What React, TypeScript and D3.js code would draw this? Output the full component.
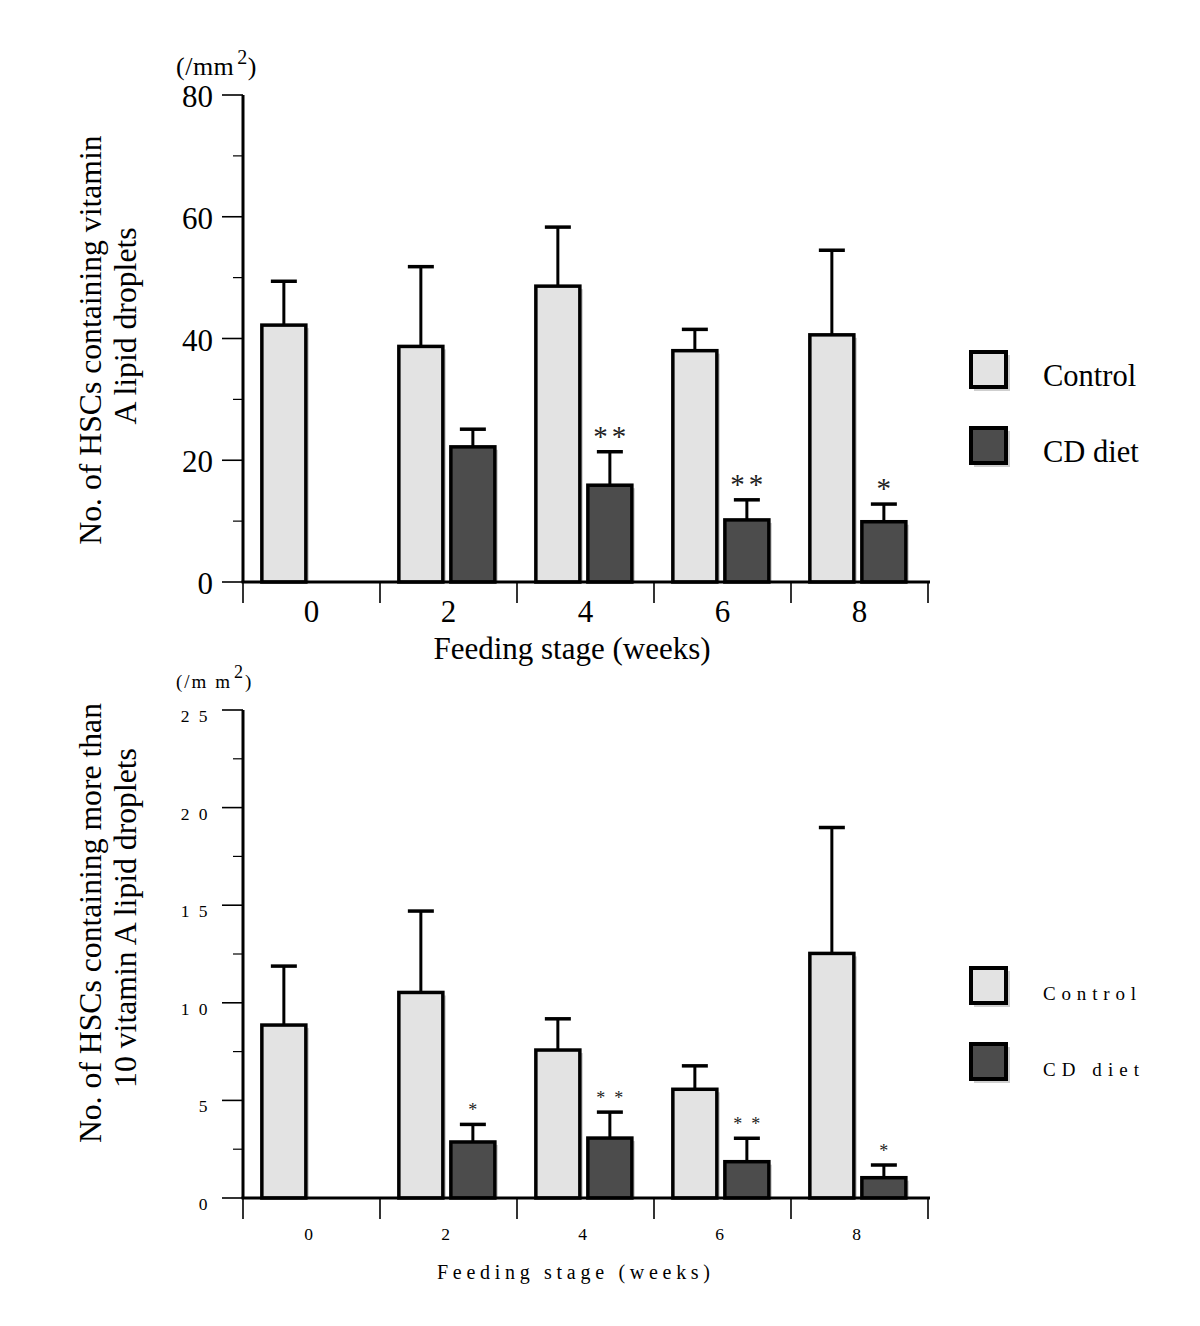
import React from 'react';
import * as d3 from 'd3';

const weeks = ['0', '2', '4', '6', '8'];
const seriesNames = ['Control', 'CD diet'];

// Top panel: all HSCs containing vitamin A lipid droplets (/mm2)
const topControl = [42.2, 38.7, 48.6, 38.0, 40.6];
const topControlSD = [7.2, 13.1, 9.7, 3.5, 13.9];
const topCD = [null, 22.2, 15.9, 10.2, 9.9];
const topCDSD = [null, 2.9, 5.5, 3.3, 2.9];
const topSig = ['', '', '**', '**', '*'];
const topMajor = [0, 20, 40, 60, 80];
const topMinor = [10, 30, 50, 70];

// Bottom panel: HSCs containing more than 10 vitamin A lipid droplets (/mm2)
const botControl = [8.86, 10.53, 7.58, 5.57, 12.53];
const botControlSD = [3.02, 4.17, 1.6, 1.2, 6.45];
const botCD = [null, 2.87, 3.07, 1.86, 1.04];
const botCDSD = [null, 0.9, 1.33, 1.2, 0.65];
const botSig = ['', '*', '**', '**', '*'];
const botMajor = [0, 5, 10, 15, 20, 25];
const botMinor = [2.5, 7.5, 12.5, 17.5, 22.5];

const FONT = "'Liberation Serif', 'Times New Roman', serif";
const FILLS: Record<string, string> = { 'Control': '#e3e3e3', 'CD diet': '#4c4c4c' };

type PanelProps = {
  control: (number | null)[];
  controlSD: (number | null)[];
  cd: (number | null)[];
  cdSD: (number | null)[];
  sig: string[];
  major: number[];
  minor: number[];
  yMax: number;
  yTop: number;
  yBottom: number;
  small: boolean;
  titleLines: string[];
  titleCenters: number[];
};

function Panel(p: PanelProps) {
  const left = 243;
  const right = 928;
  const y = d3.scaleLinear().domain([0, p.yMax]).range([p.yBottom, p.yTop]);
  const x0 = d3.scaleBand<string>().domain(weeks).range([left, right]).padding(0);
  const x1 = d3
    .scaleBand<string>()
    .domain(seriesNames)
    .range([0, x0.bandwidth()])
    .paddingInner(0.154)
    .paddingOuter(0.394)
    .align(0.46);
  const bw = x1.bandwidth();
  const y0 = y(0);

  const tickFont = p.small ? 17.5 : 31;
  const spaced = (s: string) => (p.small ? s.split('').join(' ') : s);

  const bars: { key: string; s: string; i: number; v: number; sd: number }[] = [];
  weeks.forEach((w, i) => {
    const c = p.control[i];
    if (c != null) bars.push({ key: `c${i}`, s: 'Control', i, v: c, sd: p.controlSD[i] ?? 0 });
    const d = p.cd[i];
    if (d != null) bars.push({ key: `d${i}`, s: 'CD diet', i, v: d, sd: p.cdSD[i] ?? 0 });
  });

  const cap = 13;

  return (
    <g>
      {/* bar shadows */}
      {bars.map((b) => {
        const bx = (x0(weeks[b.i]) ?? 0) + (x1(b.s) ?? 0);
        return (
          <rect
            key={'sh' + b.key}
            x={bx + 3}
            y={y(b.v) + 3}
            width={bw}
            height={y0 - y(b.v) - 3}
            fill="#cfcfcf"
          />
        );
      })}
      {/* bars */}
      {bars.map((b) => {
        const bx = (x0(weeks[b.i]) ?? 0) + (x1(b.s) ?? 0);
        return (
          <rect
            key={b.key}
            x={bx}
            y={y(b.v)}
            width={bw}
            height={y0 - y(b.v)}
            fill={FILLS[b.s]}
            stroke="#000"
            strokeWidth={3.5}
          />
        );
      })}
      {/* error bars */}
      {bars.map((b) => {
        const cx = (x0(weeks[b.i]) ?? 0) + (x1(b.s) ?? 0) + bw / 2;
        const yt = y(b.v + b.sd);
        return (
          <g key={'e' + b.key} stroke="#000">
            <line x1={cx} x2={cx} y1={y(b.v)} y2={yt} strokeWidth={3} />
            <line x1={cx - cap} x2={cx + cap} y1={yt} y2={yt} strokeWidth={3.5} />
          </g>
        );
      })}
      {/* significance marks */}
      {bars
        .filter((b) => b.s === 'CD diet' && p.sig[b.i])
        .map((b) => {
          const cx = (x0(weeks[b.i]) ?? 0) + (x1(b.s) ?? 0) + bw / 2;
          const yt = y(b.v + b.sd);
          const txt = p.sig[b.i];
          const ls = p.small ? 9 : 4;
          return (
            <text
              key={'s' + b.key}
              x={cx + (txt.length > 1 ? ls / 2 : 0)}
              y={yt - (p.small ? 8 : 6)}
              textAnchor="middle"
              fontFamily={FONT}
              fontSize={p.small ? 18 : 29}
              letterSpacing={txt.length > 1 ? ls : 0}
              fill="#222"
            >
              {txt}
            </text>
          );
        })}
      {/* y axis */}
      <line x1={left} x2={left} y1={y(p.yMax)} y2={y0} stroke="#000" strokeWidth={3} />
      {p.major.map((t) => (
        <g key={'mj' + t}>
          <line x1={left - 21} x2={left} y1={y(t)} y2={y(t)} stroke="#000" strokeWidth={1.6} />
          <text
            x={p.small ? 210 : 213}
            y={y(t) + (p.small ? 12 : 12)}
            textAnchor="end"
            fontFamily={FONT}
            fontSize={tickFont}
            letterSpacing={p.small ? 2.5 : 0}
          >
            {spaced(String(t))}
          </text>
        </g>
      ))}
      {p.minor.map((t) => (
        <line key={'mn' + t} x1={left - 10} x2={left} y1={y(t)} y2={y(t)} stroke="#000" strokeWidth={1.2} />
      ))}
      {/* x axis */}
      <line x1={left - 1.5} x2={right + 2} y1={y0} y2={y0} stroke="#000" strokeWidth={3} />
      {[...weeks.map((w) => x0(w) ?? 0), right].map((bx, i) => (
        <line key={'xt' + i} x1={bx} x2={bx} y1={y0} y2={y0 + 21} stroke="#000" strokeWidth={1.6} />
      ))}
      {weeks.map((w) => (
        <text
          key={'xl' + w}
          x={(x0(w) ?? 0) + x0.bandwidth() / 2 + (p.small ? -3 : 0)}
          y={y0 + (p.small ? 42 : 40)}
          textAnchor="middle"
          fontFamily={FONT}
          fontSize={tickFont}
        >
          {w}
        </text>
      ))}
      {/* x title */}
      {p.small ? (
        <text
          x={437}
          y={y0 + 81}
          fontFamily={FONT}
          fontSize={20}
          textLength={273}
          lengthAdjust="spacing"
        >
          Feeding stage (weeks)
        </text>
      ) : (
        <text x={572} y={y0 + 77} textAnchor="middle" fontFamily={FONT} fontSize={31}>
          Feeding stage (weeks)
        </text>
      )}
      {/* y title */}
      {p.titleLines.map((line, i) => (
        <text
          key={'yt' + i}
          transform={`translate(${101 + i * 35},${p.titleCenters[i]}) rotate(-90)`}
          textAnchor="middle"
          fontFamily={FONT}
          fontSize={31.7}
        >
          {line}
        </text>
      ))}
      {/* unit */}
      {p.small ? (
        <text x={176} y={y(p.yMax) - 22} fontFamily={FONT} fontSize={19} letterSpacing={2}>
          (/m m
          <tspan dx={2} dy={-10} fontSize={18}>2</tspan>
          <tspan dy={10}>)</tspan>
        </text>
      ) : (
        <text x={176} y={y(p.yMax) - 20} fontFamily={FONT} fontSize={26} letterSpacing={0.5}>
          (/mm
          <tspan dx={3} dy={-11} fontSize={20}>2</tspan>
          <tspan dy={11}>)</tspan>
        </text>
      )}
    </g>
  );
}

function Legend({ top, small }: { top: number; small: boolean }) {
  const gap = 76;
  return (
    <g>
      {seriesNames.map((s, i) => {
        const yy = top + i * gap;
        return (
          <g key={s}>
            <rect x={974} y={yy + 3} width={36} height={36} fill="#cfcfcf" />
            <rect x={971} y={yy} width={35} height={35} fill={FILLS[s]} stroke="#000" strokeWidth={4} />
            {small ? (
              <text
                x={1043}
                y={yy + 32}
                fontFamily={FONT}
                fontSize={19}
                textLength={s === 'Control' ? 93 : 96}
                lengthAdjust="spacing"
              >
                {s}
              </text>
            ) : (
              <text x={1043} y={yy + 34} fontFamily={FONT} fontSize={30.5}>
                {s}
              </text>
            )}
          </g>
        );
      })}
    </g>
  );
}

export default function App() {
  return (
    <svg
      width={1200}
      height={1326}
      style={{ position: 'absolute', left: 0, top: 0, background: '#fff' }}
    >
      <rect width={1200} height={1326} fill="#fff" />
      <Panel
        control={topControl}
        controlSD={topControlSD}
        cd={topCD}
        cdSD={topCDSD}
        sig={topSig}
        major={topMajor}
        minor={topMinor}
        yMax={80}
        yTop={95}
        yBottom={582}
        small={false}
        titleLines={['No. of HSCs containing vitamin', 'A lipid droplets']}
        titleCenters={[340, 326]}
      />
      <Legend top={352} small={false} />
      <Panel
        control={botControl}
        controlSD={botControlSD}
        cd={botCD}
        cdSD={botCDSD}
        sig={botSig}
        major={botMajor}
        minor={botMinor}
        yMax={25}
        yTop={710}
        yBottom={1198}
        small={true}
        titleLines={['No. of HSCs containing more than', '10 vitamin A lipid droplets']}
        titleCenters={[923, 918]}
      />
      <Legend top={968} small={true} />
    </svg>
  );
}
